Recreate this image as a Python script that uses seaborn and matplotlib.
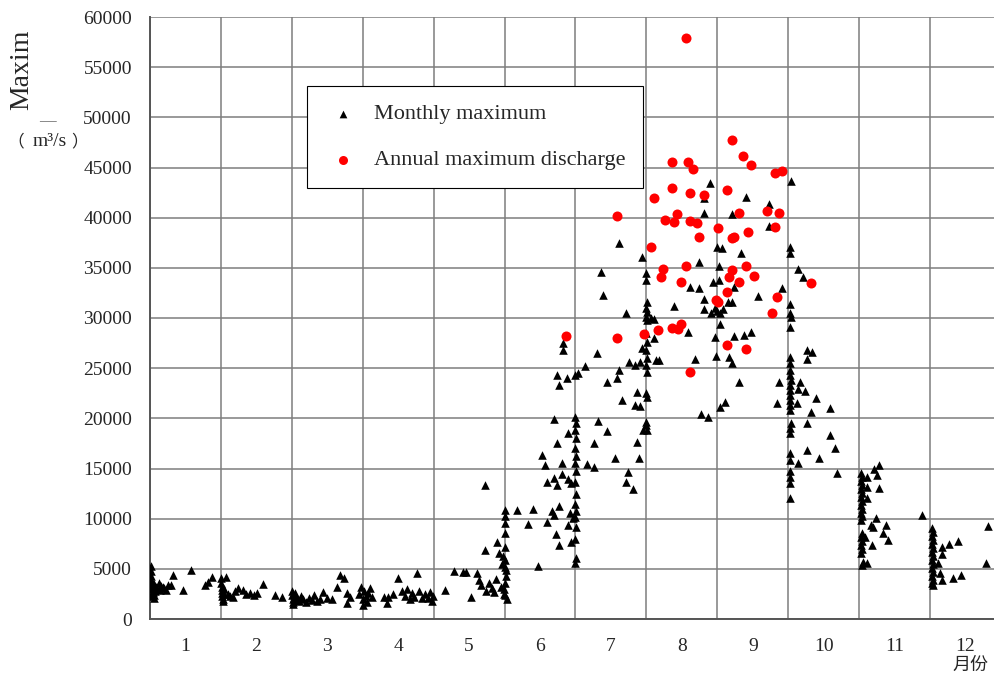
import numpy as np
import pandas as pd
import matplotlib
matplotlib.use("Agg")
import matplotlib.pyplot as plt
import seaborn as sns

# ---------------- data (x = month position, 0..12; q = discharge m3/s) ----------------
m01_x = [0.01,0.01,0.02,0.02,0.03,0.03,0.04,0.04,0.05,0.05,0.06,0.07,0.08,0.10,0.12,0.14,0.16,0.18,0.20,0.22,0.25,0.30,0.33,0.47,0.58,0.78,0.82,0.87,0.02,0.03,0.01]
m01_q = [5300,4800,4300,3900,3600,3300,3000,2700,2400,2100,3500,2800,3200,3000,3600,2900,3300,3200,3100,2900,3400,3400,4400,2900,4900,3400,3700,4200,2300,2600,3100]

m02_x = [1.00,1.00,1.01,1.01,1.02,1.02,1.03,1.03,1.04,1.05,1.07,1.10,1.13,1.17,1.20,1.24,1.31,1.36,1.41,1.46,1.51,1.60,1.76,1.86]
m02_q = [4100,3600,3200,2900,2600,2300,2000,1800,3000,2500,4200,2500,2300,2200,2800,3100,2900,2500,2600,2400,2600,3500,2400,2200]

m03_x = [2.00,2.00,2.01,2.01,2.02,2.03,2.04,2.05,2.07,2.10,2.13,2.16,2.20,2.24,2.28,2.31,2.35,2.40,2.44,2.50,2.57,2.64,2.68,2.74,2.78,2.78,2.82]
m03_q = [2800,2400,2000,1700,1500,2200,1900,2600,2100,1800,2300,2000,1700,2100,1900,2400,1800,2000,2700,2100,2000,3200,4400,4100,2600,1600,2200]

m04_x = [2.95,2.98,3.00,3.00,3.02,3.04,3.06,3.08,3.10,3.13,3.30,3.34,3.36,3.42,3.50,3.55,3.60,3.63,3.66,3.70,3.72,3.76,3.80,3.84,3.88,3.92,3.95,3.97,3.99]
m04_q = [2500,3200,2000,1400,2800,2300,1700,2600,3100,2200,2200,1600,2200,2500,4100,2800,2300,3000,2000,2600,2200,4600,2800,2100,2500,2100,2700,1800,2300]

m05_x = [4.16,4.29,4.41,4.45,4.53,4.61,4.64,4.67,4.72,4.72,4.74,4.78,4.82,4.85,4.88,4.90,4.92,4.95,4.96,4.98,4.99,5.00,5.00,5.00,5.01,5.01,5.02,5.02,5.03,5.00,5.01,4.99,5.00,5.01]
m05_q = [2900,4800,4700,4700,2200,4600,3900,3400,6900,13400,2800,3600,3100,2700,4000,7700,6600,3200,5500,6300,2500,10900,10300,9600,8600,7200,4900,4300,2000,5900,3600,3000,2400,5200]

m06_x = [5.18,5.40,5.33,5.47,5.60,5.67,5.69,5.77,5.73,5.77,5.90,5.92,5.93,5.97,5.60,5.74,5.70,5.81,5.90,5.93,5.57,5.53,5.81,5.74,5.90,5.70,5.74,5.77,5.88,5.83,5.83,
         6.00,6.00,6.01,6.00,6.01,6.00,6.01,6.00,6.01,6.00,6.01,6.00,6.01,6.00,6.01,6.00,6.01,6.00]
m06_q = [10900,11000,9500,5300,9700,10800,10400,11300,8500,7400,9400,10600,7700,10100,13700,13400,14100,14500,14000,13600,15300,16300,15500,17500,18500,19900,24300,23300,24000,27500,26800,
         24300,20100,19500,18800,18000,17000,16200,15500,14800,13700,12500,11500,10800,10200,9200,8000,6100,5600]

m07_x = [6.30,6.14,6.04,6.45,6.59,6.62,6.75,6.84,6.91,6.66,6.87,6.84,6.91,6.32,6.45,6.26,6.16,6.26,6.56,6.74,6.71,6.81,6.87,6.90,6.95,6.39,6.71,6.62,6.36,6.94,6.94,
         7.00,7.00,7.01,7.00,7.01,7.00,7.01,7.00,7.01,7.00,7.01,7.00,7.01,7.00,7.01,7.00,7.00,7.01]
m07_q = [26500,25200,24500,23600,24000,24800,25600,25300,25600,21800,22600,21300,21200,19700,18700,17500,15400,15100,16000,14700,13700,13000,17600,16000,18800,32300,30500,37500,34600,36100,27000,
         34500,33800,31600,31000,30600,30100,29800,28500,27600,26800,26000,25300,24600,22500,22100,19600,19300,18800]

m08_x = [7.10,7.10,7.18,7.39,7.59,7.69,7.62,7.74,7.74,7.81,7.81,7.81,7.81,7.90,7.91,7.94,7.97,8.00,8.04,8.08,8.00,8.07,8.02,8.02,7.97,7.98,8.04,8.04,7.77,7.87,
         8.11,8.17,8.21,8.15,8.20,8.24,8.21,8.34,8.41,8.24,8.37,8.48,8.31,8.58,8.73,8.73,8.91,8.84,8.87,7.07,7.14]
m08_q = [29900,28000,25800,31200,28600,25900,33100,33000,35600,31900,30900,42000,40500,43500,30500,33600,31000,30700,30500,30900,37100,37000,35200,33800,28100,26200,29400,21100,20400,20100,
         21600,26100,25500,31600,31600,33100,40400,36500,42100,28200,28300,28600,23600,32200,41400,39200,33000,21500,23600,30000,25800]

m09_x = [9.02,9.03,9.02,9.03,9.04,9.02,9.03,9.02,9.03,9.02,9.04,9.03,9.02,9.03,9.02,9.03,9.02,9.04,9.03,9.02,9.03,9.02,9.03,9.02,9.03,9.03]
m09_q = [37100,36500,31400,30500,30100,29100,26100,25500,24800,24300,23800,23300,22800,22300,21800,21300,20800,19500,19000,18500,16500,15800,14800,14200,13600,12100]

m10_x = [9.04,9.14,9.21,9.27,9.34,9.27,9.17,9.14,9.24,9.39,9.59,9.12,9.32,9.27,9.59,9.66,9.27,9.44,9.14,9.69]
m10_q = [43700,34900,34100,26800,26600,25900,23600,22900,22700,22000,21000,21500,20600,19500,18300,17000,16800,16000,15500,14600]

m11_x = [10.03,10.04,10.03,10.04,10.03,10.04,10.03,10.04,10.03,10.04,10.03,10.04,10.03,10.04,10.03,10.04,10.03,10.04,10.03,10.05,10.04,
         10.11,10.21,10.28,10.25,10.11,10.28,10.11,10.24,10.20,10.17,10.38,10.34,10.41,10.18,10.08,10.11,10.89]
m11_q = [14600,14200,13800,13400,13000,12600,12200,11800,11400,11000,10600,10300,9900,8600,8200,7800,7400,7000,6600,5700,5400,
         14200,15000,15300,14400,13200,13100,12100,10100,9200,9400,9400,8600,7900,7400,8200,5600,10400]

m12_x = [11.03,11.04,11.03,11.04,11.03,11.04,11.03,11.04,11.03,11.04,11.03,11.04,11.03,11.04,11.03,11.04,
         11.17,11.27,11.39,11.17,11.11,11.14,11.17,11.33,11.44,11.79,11.82]
m12_q = [9100,8700,8300,7900,7500,7100,6700,6300,5900,5500,5100,4700,4300,3900,3600,3400,
         7200,7500,7800,6500,5600,4600,3900,4100,4400,5600,9300]

ann_x = [7.56,8.21,8.36,8.48,8.82,8.91,7.36,7.59,7.66,6.59,7.11,7.36,7.62,7.81,8.14,7.43,7.26,7.39,7.62,7.72,
         8.01,8.31,8.70,8.87,8.82,8.43,7.74,8.21,8.24,7.07,7.24,7.21,7.56,7.49,8.21,8.41,8.51,8.17,8.31,8.14,
         7.98,8.01,8.84,8.77,9.32,6.97,7.17,7.36,7.45,7.49,8.14,8.41,7.62,5.87,6.59]
ann_q = [57900,47700,46100,45200,44500,44700,45500,45500,44900,40200,42000,43000,42500,42300,42800,40400,39800,39600,39700,39500,
         39000,40500,40700,40500,39100,38600,38100,38000,38100,37100,34900,34100,35200,33600,34800,35200,34200,34100,33600,32600,
         31800,31600,32100,30500,33500,28400,28800,29000,28900,29400,27300,26900,24600,28200,28000]

month_labels = [str(i) for i in range(1, 13)]
y_ticks = list(range(0, 60001, 5000))

# ---------------- frames ----------------
pairs = [(m01_x, m01_q), (m02_x, m02_q), (m03_x, m03_q), (m04_x, m04_q), (m05_x, m05_q), (m06_x, m06_q),
         (m07_x, m07_q), (m08_x, m08_q), (m09_x, m09_q), (m10_x, m10_q), (m11_x, m11_q), (m12_x, m12_q)]
monthly = pd.concat([pd.DataFrame({"x": a, "q": b}) for a, b in pairs], ignore_index=True)
annual = pd.DataFrame({"x": ann_x, "q": ann_q})

# ---------------- style ----------------
sns.set_theme(style="white")
plt.rcParams["font.family"] = ["Liberation Serif", "Noto Sans CJK SC", "DejaVu Sans"]

fig = plt.figure(figsize=(9.95, 6.81), dpi=100)
ax = fig.add_axes([150 / 995, 62 / 681, 851 / 995, 602 / 681])

sns.scatterplot(data=monthly, x="x", y="q", marker="^", s=38, color="black",
                linewidth=0, label="Monthly maximum", ax=ax, zorder=3)
sns.scatterplot(data=annual, x="x", y="q", marker="o", s=52, color="#ff0000",
                linewidth=0, label="Annual maximum discharge", ax=ax, zorder=4)

ax.set_xlim(0, 12)
ax.set_ylim(0, 60000)
ax.set_xticks(range(13))
ax.set_xticklabels([])
ax.set_xticks(np.arange(0.5, 12, 1.0), minor=True)
ax.set_xticklabels(month_labels, minor=True)
ax.set_yticks(y_ticks)
ax.set_yticklabels([str(v) for v in y_ticks])
ax.set_axisbelow(True)
ax.grid(True, which="major", color="#7d7d7d", linewidth=1.1)
ax.grid(False, which="minor")
ax.tick_params(which="both", length=0)
ax.tick_params(axis="y", pad=13, labelsize=14)
ax.tick_params(axis="x", which="minor", pad=14, labelsize=14)
ax.set_xlabel("")
ax.set_ylabel("")
for side in ("top", "right"):
    ax.spines[side].set_visible(False)
for side in ("left", "bottom"):
    ax.spines[side].set_color("#555555")
    ax.spines[side].set_linewidth(1.4)

leg = ax.legend(loc="upper left", bbox_to_anchor=(307 / 995, 1 - 86 / 681),
                bbox_transform=fig.transFigure, borderaxespad=0, fontsize=16,
                frameon=True, fancybox=False, edgecolor="black", framealpha=1,
                borderpad=0.8, handlelength=1.6, handletextpad=0.6, labelspacing=1.15,
                markerscale=0.9)
leg.get_frame().set_linewidth(0.8)

# ---------------- axis titles ----------------
fig.text(22 / 995, 1 - 70 / 681, "Maxim", rotation=90, fontsize=20, ha="center", va="center")
fig.text(47 / 995, 1 - 121 / 681, "—", fontsize=12, ha="center", va="center", color="#666666")
fig.text(16 / 995, 1 - 142 / 681, "（", fontsize=12, family=["Noto Sans CJK SC"], ha="center", va="center")
fig.text(50 / 995, 1 - 141 / 681, "m³/s", fontsize=14, ha="center", va="center")
fig.text(80 / 995, 1 - 142 / 681, "）", fontsize=12, family=["Noto Sans CJK SC"], ha="center", va="center")
fig.text(970 / 995, 1 - 665 / 681, "月份", fontsize=13, family=["Noto Sans CJK SC"], ha="center", va="center")

fig.savefig("out.png", dpi=100)
